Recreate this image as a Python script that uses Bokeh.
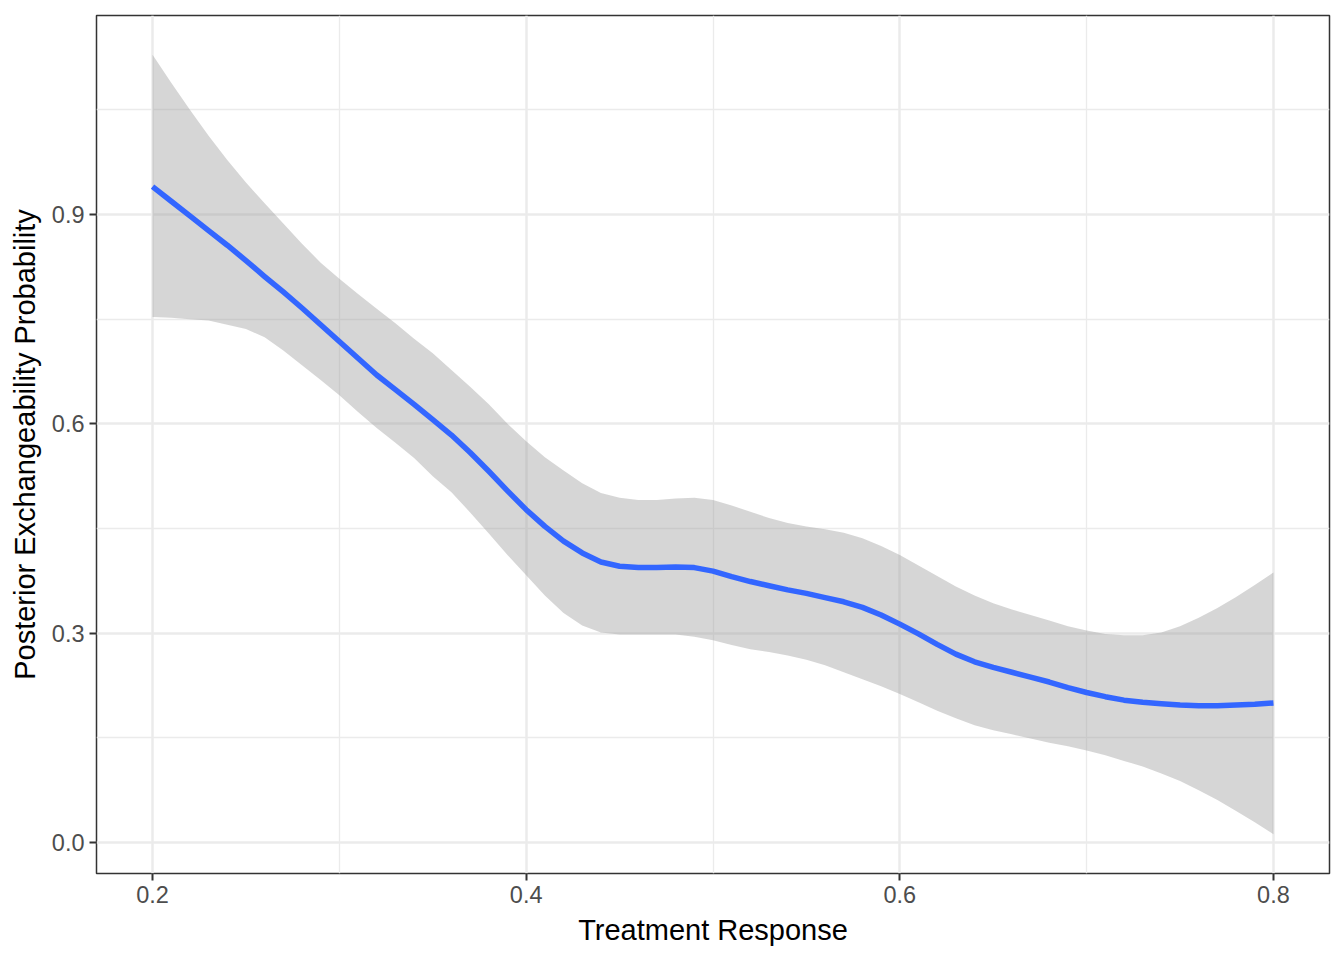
from bokeh.plotting import figure
from bokeh.models import Range1d, FixedTicker, ColumnDataSource, CustomJSTickFormatter
from bokeh.embed import file_html
from bokeh.resources import INLINE

# Data (loess fit with confidence band)
x_vals = [0.20, 0.21, 0.22, 0.23, 0.24, 0.25, 0.26, 0.27, 0.28, 0.29,
          0.30, 0.31, 0.32, 0.33, 0.34, 0.35, 0.36, 0.37, 0.38, 0.39,
          0.40, 0.41, 0.42, 0.43, 0.44, 0.45, 0.46, 0.47, 0.48, 0.49,
          0.50, 0.51, 0.52, 0.53, 0.54, 0.55, 0.56, 0.57, 0.58, 0.59,
          0.60, 0.61, 0.62, 0.63, 0.64, 0.65, 0.66, 0.67, 0.68, 0.69,
          0.70, 0.71, 0.72, 0.73, 0.74, 0.75, 0.76, 0.77, 0.78, 0.79, 0.80]
fit_vals = [0.940, 0.919, 0.898, 0.877, 0.856, 0.834, 0.811, 0.789, 0.766, 0.742,
            0.718, 0.694, 0.670, 0.649, 0.628, 0.606, 0.584, 0.559, 0.532, 0.504,
            0.477, 0.453, 0.432, 0.415, 0.402, 0.396, 0.394, 0.394, 0.395, 0.394,
            0.389, 0.381, 0.374, 0.368, 0.362, 0.357, 0.351, 0.345, 0.337, 0.326,
            0.313, 0.299, 0.284, 0.270, 0.259, 0.251, 0.244, 0.237, 0.230, 0.222,
            0.215, 0.209, 0.204, 0.201, 0.199, 0.197, 0.196, 0.196, 0.197, 0.198, 0.200]
upper_vals = [1.129, 1.089, 1.050, 1.013, 0.978, 0.946, 0.916, 0.887, 0.858, 0.831,
              0.808, 0.786, 0.765, 0.744, 0.722, 0.701, 0.677, 0.653, 0.628, 0.600,
              0.575, 0.552, 0.533, 0.515, 0.501, 0.494, 0.491, 0.491, 0.493, 0.494,
              0.491, 0.483, 0.474, 0.465, 0.458, 0.453, 0.449, 0.444, 0.436, 0.425,
              0.412, 0.397, 0.382, 0.367, 0.354, 0.343, 0.334, 0.326, 0.318, 0.310,
              0.304, 0.299, 0.297, 0.297, 0.301, 0.310, 0.322, 0.336, 0.352, 0.369, 0.387]
lower_vals = [0.753, 0.752, 0.750, 0.748, 0.742, 0.736, 0.724, 0.705, 0.684, 0.663,
              0.641, 0.617, 0.594, 0.573, 0.551, 0.525, 0.502, 0.473, 0.443, 0.412,
              0.383, 0.354, 0.329, 0.311, 0.301, 0.298, 0.298, 0.298, 0.298, 0.295,
              0.290, 0.283, 0.277, 0.273, 0.268, 0.262, 0.254, 0.244, 0.234, 0.224,
              0.213, 0.201, 0.189, 0.178, 0.168, 0.161, 0.155, 0.149, 0.143, 0.138,
              0.132, 0.125, 0.117, 0.109, 0.099, 0.088, 0.075, 0.061, 0.045, 0.029, 0.012]

x_ticks = [0.2, 0.4, 0.6, 0.8]
x_minor = [0.3, 0.5, 0.7]
y_ticks = [0.0, 0.3, 0.6, 0.9]
y_minor = [0.15, 0.45, 0.75, 1.05]
x_label = "Treatment Response"
y_label = "Posterior Exchangeability Probability"

src = ColumnDataSource(data=dict(x=x_vals, fit=fit_vals, upper=upper_vals, lower=lower_vals))

FONT = "Liberation Sans"

p = figure(width=1336, height=952, output_backend="svg", toolbar_location=None,
           x_range=Range1d(0.17, 0.83), y_range=Range1d(-0.0444, 1.1852),
           min_border_left=96, min_border_right=7, min_border_top=15, min_border_bottom=79)

p.background_fill_color = "white"
p.border_fill_color = "white"
p.outline_line_color = "#333333"
p.outline_line_width = 1.5

p.varea(x="x", y1="lower", y2="upper", source=src, fill_color="#999999", fill_alpha=0.4)
p.line(x="x", y="fit", source=src, line_color="#3366FF", line_width=5.5, line_join="round")

p.xaxis.ticker = FixedTicker(ticks=x_ticks, minor_ticks=x_minor)
p.yaxis.ticker = FixedTicker(ticks=y_ticks, minor_ticks=y_minor)

for ax in (p.xaxis, p.yaxis):
    ax.axis_line_color = None
    ax.major_tick_line_color = "#333333"
    ax.major_tick_line_width = 2
    ax.major_tick_out = 7
    ax.major_tick_in = 0
    ax.minor_tick_line_color = None
    ax.major_label_text_font = FONT
    ax.major_label_text_font_size = "23.5px"
    ax.major_label_text_color = "#4D4D4D"
    ax.major_label_standoff = 5
    ax.axis_label_text_font = FONT
    ax.axis_label_text_font_size = "29px"
    ax.axis_label_text_font_style = "normal"
    ax.axis_label_text_color = "black"
    ax.axis_label_standoff = 8
    ax.formatter = CustomJSTickFormatter(code="return tick.toFixed(1);")

p.xaxis.axis_label = x_label
p.yaxis.axis_label = y_label

for g in (p.xgrid, p.ygrid):
    g.grid_line_color = "#EBEBEB"
    g.grid_line_width = 2.5
    g.minor_grid_line_color = "#EBEBEB"
    g.minor_grid_line_width = 1.3

open("out.html", "w").write(file_html(p, INLINE))
